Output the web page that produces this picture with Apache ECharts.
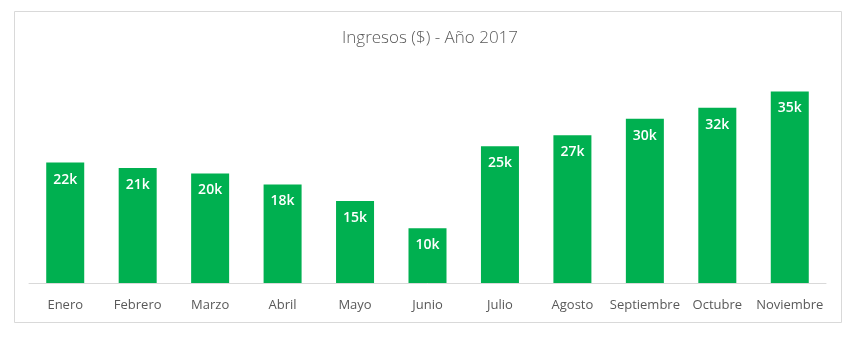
<!DOCTYPE html>
<html><head><meta charset="utf-8">
<script src="https://cdn.jsdelivr.net/npm/echarts@6/dist/echarts.min.js"></script>
<style>html,body{margin:0;padding:0;background:#fff}#c{width:860px;height:337px}</style>
</head><body><div id="c"></div>
<script>
const categories = ['Enero','Febrero','Marzo','Abril','Mayo','Junio','Julio','Agosto','Septiembre','Octubre','Noviembre'];
const ingresos = [22, 21, 20, 18, 15, 10, 25, 27, 30, 32, 35];
const titleText = 'Ingresos ($) - Año 2017';

const chart = echarts.init(document.getElementById('c'), null, {renderer: 'canvas'});
chart.setOption({
  animation: false,
  backgroundColor: '#fff',
  graphic: [{
    type: 'rect', shape: {x: 14.5, y: 11.5, width: 827, height: 311},
    style: {fill: 'none', stroke: '#d9d9d9', lineWidth: 1}, silent: true, z: -1
  }],
  title: {
    text: titleText, left: 'center', top: 25,
    textStyle: {fontFamily: 'Open Sans', fontWeight: 300, fontSize: 17, color: '#595959'}
  },
  grid: {left: 29, right: 34, top: 64, bottom: 54, containLabel: false},
  xAxis: {
    type: 'category', data: categories,
    axisLine: {lineStyle: {color: '#d9d9d9', width: 1}},
    axisTick: {show: false},
    axisLabel: {color: '#595959', fontFamily: 'Open Sans', fontSize: 13, margin: 16, interval: 0}
  },
  yAxis: {type: 'value', min: 0, max: 40, show: false, splitLine: {show: false}},
  series: [{
    type: 'bar', data: ingresos, barWidth: 38,
    itemStyle: {color: '#00B050'},
    label: {
      show: true, position: 'insideTop', distance: 10,
      formatter: p => p.value + 'k',
      color: '#fff', fontFamily: 'Open Sans', fontWeight: 600, fontSize: 14
    }
  }]
});
</script></body></html>
